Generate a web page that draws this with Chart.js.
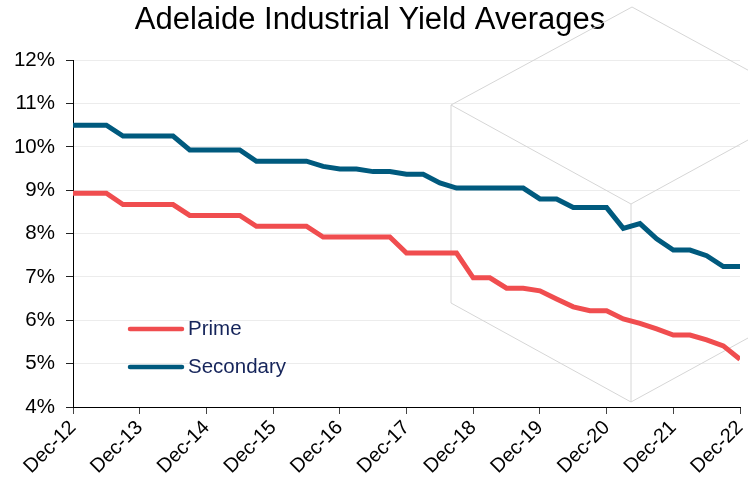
<!DOCTYPE html>
<html>
<head>
<meta charset="utf-8">
<script src="https://cdn.jsdelivr.net/npm/chart.js@4/dist/chart.umd.min.js"></script>
<style>
  html, body { margin: 0; padding: 0; background: #ffffff; }
  #wrap { width: 748px; height: 486px; }
</style>
</head>
<body>
<div id="wrap"><canvas id="chart" width="748" height="486"></canvas></div>
<script>
// Quarterly periods, Dec-12 to Dec-22
const quarters = [
  "Dec-12","Mar-13","Jun-13","Sep-13","Dec-13","Mar-14","Jun-14","Sep-14",
  "Dec-14","Mar-15","Jun-15","Sep-15","Dec-15","Mar-16","Jun-16","Sep-16",
  "Dec-16","Mar-17","Jun-17","Sep-17","Dec-17","Mar-18","Jun-18","Sep-18",
  "Dec-18","Mar-19","Jun-19","Sep-19","Dec-19","Mar-20","Jun-20","Sep-20",
  "Dec-20","Mar-21","Jun-21","Sep-21","Dec-21","Mar-22","Jun-22","Sep-22",
  "Dec-22"
];

// Average yields (%)
const prime = [
  8.93, 8.93, 8.93, 8.67, 8.67, 8.67, 8.67, 8.42, 8.42, 8.42, 8.42,
  8.17, 8.17, 8.17, 8.17, 7.92, 7.92, 7.92, 7.92, 7.92, 7.55, 7.55,
  7.55, 7.55, 6.98, 6.98, 6.74, 6.74, 6.68, 6.49, 6.31, 6.22, 6.22,
  6.03, 5.93, 5.80, 5.66, 5.66, 5.55, 5.41, 5.10
];
const secondary = [
  10.50, 10.50, 10.50, 10.25, 10.25, 10.25, 10.25, 9.93, 9.93, 9.93, 9.93,
  9.67, 9.67, 9.67, 9.67, 9.55, 9.49, 9.49, 9.43, 9.43, 9.37, 9.37,
  9.17, 9.05, 9.05, 9.05, 9.05, 9.05, 8.80, 8.80, 8.60, 8.60, 8.60,
  8.12, 8.23, 7.88, 7.62, 7.62, 7.49, 7.24, 7.24
];

const seriesNames = ["Prime", "Secondary"];
const seriesColors = ["#f04d4f", "#005a7e"];

const FONT = "'Liberation Sans', Arial, Helvetica, sans-serif";

// Faint wireframe cube drawn behind the data lines
const cubeBackdrop = {
  id: 'cubeBackdrop',
  beforeDatasetsDraw(chart) {
    const ctx = chart.ctx;
    const T = [632, 7], L = [451, 105], C = [631, 204], R = [812, 105];
    const LB = [451, 303], CB = [631, 402], RB = [812, 303];
    const edges = [[T, L], [T, R], [L, C], [C, R], [L, LB], [C, CB], [LB, CB], [CB, RB], [R, RB]];
    ctx.save();
    ctx.strokeStyle = '#d6d6d6';
    ctx.lineWidth = 1;
    ctx.beginPath();
    edges.forEach(([a, b]) => { ctx.moveTo(a[0], a[1]); ctx.lineTo(b[0], b[1]); });
    ctx.stroke();
    ctx.restore();
  }
};

// Legend placed inside the plot area, lower left
const insetLegend = {
  id: 'insetLegend',
  afterDatasetsDraw(chart) {
    const ctx = chart.ctx;
    const rows = [329, 367];
    ctx.save();
    chart.data.datasets.forEach((ds, i) => {
      const y = rows[i];
      ctx.strokeStyle = ds.borderColor;
      ctx.lineWidth = 4.5;
      ctx.lineCap = 'round';
      ctx.beginPath();
      ctx.moveTo(130, y);
      ctx.lineTo(182, y);
      ctx.stroke();
      ctx.fillStyle = '#15245a';
      ctx.font = '20.5px ' + FONT;
      ctx.textBaseline = 'middle';
      ctx.textAlign = 'left';
      ctx.fillText(ds.label, 188, y);
    });
    ctx.restore();
  }
};

const datasets = [prime, secondary].map((values, k) => ({
  label: seriesNames[k],
  data: values.map((v, i) => ({ x: i, y: v })),
  borderColor: seriesColors[k],
  backgroundColor: seriesColors[k],
  borderWidth: 5,
  pointRadius: 0,
  tension: 0,
  fill: false
}));

new Chart(document.getElementById('chart'), {
  type: 'line',
  data: { datasets },
  plugins: [cubeBackdrop, insetLegend],
  options: {
    responsive: false,
    animation: false,
    devicePixelRatio: 1,
    layout: { padding: { left: 0, right: 8, top: 0, bottom: 0 } },
    plugins: {
      legend: { display: false },
      tooltip: { enabled: false },
      title: {
        display: true,
        text: 'Adelaide Industrial Yield Averages',
        color: '#000000',
        font: { family: FONT, size: 31, weight: 'normal' },
        padding: { top: 2, bottom: 21 }
      }
    },
    scales: {
      x: {
        type: 'linear',
        min: 0,
        max: quarters.length - 1,
        afterFit(scale) {
          scale.height = 79;
          scale.paddingLeft = 0;
          scale.paddingRight = 0;
        },
        border: { display: true, color: '#000000', width: 1 },
        grid: { drawOnChartArea: false, drawTicks: true, tickLength: 7, tickColor: '#444444' },
        ticks: {
          stepSize: 4,
          autoSkip: false,
          minRotation: 45,
          maxRotation: 45,
          padding: 2,
          color: '#000000',
          font: { family: FONT, size: 20 },
          callback: (v) => quarters[v] || ''
        }
      },
      y: {
        min: 4,
        max: 12,
        afterFit(scale) { scale.width = 73; },
        border: { display: true, color: '#000000', width: 1 },
        grid: { color: '#ececec', lineWidth: 1, tickLength: 7, tickColor: '#222222' },
        ticks: {
          stepSize: 1,
          padding: 11,
          color: '#000000',
          font: { family: FONT, size: 20.5 },
          callback: (v) => v + '%'
        }
      }
    }
  }
});
</script>
</body>
</html>
